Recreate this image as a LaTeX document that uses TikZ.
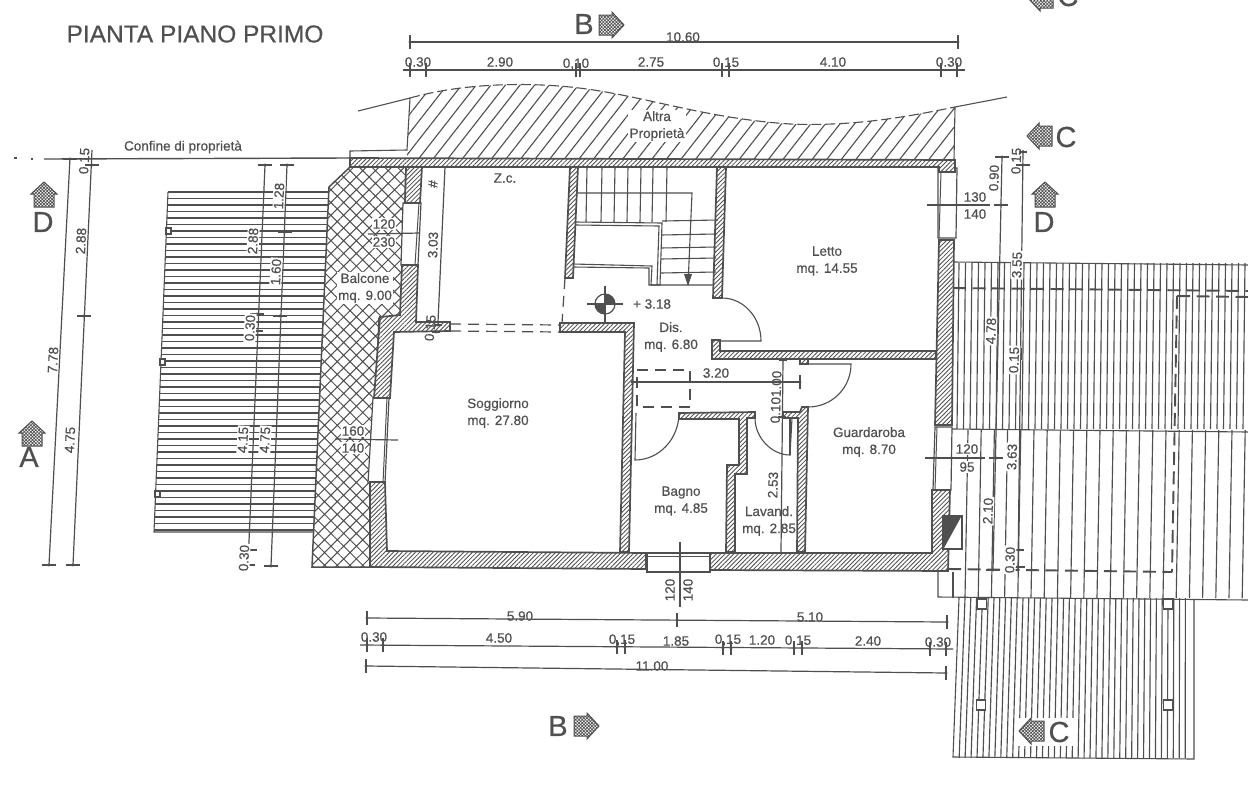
\documentclass[tikz,border=0pt]{standalone}
\usepackage{fontspec}
\setmainfont[FakeBold=0.5,AutoFakeBold=0.5]{Liberation Sans}
\usetikzlibrary{patterns.meta}
\definecolor{ink}{HTML}{4F4F4F}
\definecolor{txt}{HTML}{505050}
\tikzset{
  lab/.style={text=txt,inner sep=0pt,align=center,font=\fontsize{13.5}{17}\selectfont\bfseries},
  labw/.style={lab,fill=white,inner sep=1.2pt},
  sec/.style={lab,font=\fontsize{29}{30}\selectfont},
  ttl/.style={lab,font=\fontsize{24.5}{26}\selectfont\bfseries},
  ln/.style={draw=ink,line width=1.1pt},
  thinln/.style={draw=ink,line width=1pt},
  dimline/.style={draw=ink,line width=1.2pt},
  rooflbl/.style={draw=ink,line width=1.15pt},
  wallst/.style={draw=ink,line width=1.7pt,line join=miter,fill=white,postaction={pattern={Lines[angle=45,distance=3.1pt,line width=0.85pt]},pattern color=ink}},
  winst/.style={draw=ink,line width=1.2pt,fill=white},
  prop/.style={pattern={Lines[angle=52,distance=11.5pt,line width=1.1pt]},pattern color=ink},
  balc/.style={draw=ink,line width=1.5pt,pattern={Hatch[angle=45,distance=9pt,line width=1pt]},pattern color=ink},
  secst/.style={draw=ink,line width=1pt,fill=white,postaction={pattern={Hatch[angle=45,distance=2.3pt,line width=0.7pt]},pattern color=ink}},
  dsh/.style={draw=ink,line width=1.2pt,dash pattern=on 11pt off 7pt},
  roofdsh/.style={draw=ink,line width=1.9pt,dash pattern=on 13pt off 6.5pt},
  sq/.style={draw=ink,line width=1.2pt,fill=white}
}
\newcommand{\tx}[4][]{\node[lab,#1] (#2) at (#3) {#4};}
\newcommand{\dimh}[3][7]{\fill[ink] (#2,#3) circle (1.7pt); \draw[dimline] (#2,#3-#1) -- (#2,#3+#1);}
\newcommand{\dimv}[3][7]{\fill[ink] (#2,#3) circle (1.7pt); \draw[dimline] (#2-#1,#3) -- (#2+#1,#3);}
\newcommand{\secarrow}[3]{\draw[secst,shift={(#1,#2)},rotate=#3] (0,-12) -- (13,0) -- (10,0) -- (10,13) -- (-10,13) -- (-10,0) -- (-13,0) -- cycle;}
\begin{document}
\begin{tikzpicture}[x=1pt,y=-1pt]
\useasboundingbox (0,0) rectangle (1248,788);
\clip (0,0) rectangle (1248,788);
\fill[white] (0,0) rectangle (1248,788);

% ---- left roof
\foreach \y in {192,198.5,...,532}{
  \pgfmathsetmacro{\xl}{168-(\y-192)*14/340}
  \pgfmathsetmacro{\xr}{329-(\y-192)*16/340}
  \draw[rooflbl] (\xl,\y) -- (\xr,\y);
}
\draw[ln] (168,192) -- (154,532) -- (313,532);
\foreach \x/\y in {168/231,162/362,157/494}{\draw[sq] (\x-2,\y-3) rectangle (\x+3,\y+3);}

% ---- right upper roof
\foreach \x in {958,964.5,...,1250}{\draw[rooflbl] (\x+1,263) -- (\x-1,429);}
\draw[ln] (953,262) -- (1248,265);
\draw[ln] (952,429) -- (1248,432);
% ---- right middle roof
\foreach \x in {968,981.2,...,1250}{\draw[rooflbl] (\x,430) -- (\x-3,598);}
\draw[rooflbl] (953,572) -- (953,598);
\draw[ln] (938,570) -- (938,597) -- (1248,600);
% ---- right lower roof
\foreach \x in {965,970.8,...,1190}{
  \pgfmathsetmacro{\xb}{\x-6*(1194-\x)/235}
  \draw[rooflbl] (\x,598) -- (\xb,758);
}
\draw[ln] (959,598) -- (953,757) -- (1194,759) -- (1194,599);
\foreach \x/\y in {982/604,1168/604,981/705,1168/705}{\draw[sq] (\x-4.5,\y-5) rectangle (\x+4.5,\y+5);}
% roof dashes
\draw[roofdsh] (953,288) -- (1248,291);
\draw[roofdsh] (1177,296) -- (1248,297);
\draw[roofdsh] (1177,296) -- (1172,572);
\draw[roofdsh] (948,569) -- (1172,572);

% ---- other property
\path[prop] (410,98) .. controls (460,84) and (520,82) .. (570,87)
  .. controls (640,94) and (700,118) .. (790,124)
  .. controls (860,127) and (920,114) .. (955,107) -- (954,160) -- (407,158) -- cycle;
\draw[ln] (358,111) -- (410,98);
\draw[ln,dash pattern=on 10pt off 4pt] (410,98) .. controls (460,84) and (520,82) .. (570,87)
  .. controls (640,94) and (700,118) .. (790,124)
  .. controls (860,127) and (920,114) .. (955,107);
\draw[ln] (955,107) -- (1007,97);
\draw[ln] (955,107) -- (954,160);
\draw[ln] (410,98) -- (407,150) -- (350,151) -- (350,158);

% ---- boundary line
\draw[ink,line width=1.4pt] (44,159) -- (350,158);
\draw[ink,line width=1.4pt] (14,158) -- (17,158);
\draw[ink,line width=1.4pt] (31,159) -- (33,159);

% ---- balcony
\draw[balc] (350,167) -- (406,167) -- (402,315) -- (379,318) -- (370,567) -- (312,567) -- (329,187) -- cycle;

% ---- windows
\draw[winst] (403,203) -- (421,203) -- (418,265) -- (401,265) -- cycle;
\draw[thinln] (419,203) -- (415,265);
\draw[winst] (373,398) -- (389,398) -- (385,483) -- (368,483) -- cycle;
\draw[thinln] (387,398) -- (383,483);
\draw[winst] (938,168) -- (957,168) -- (956,238) -- (938,238) -- cycle;
\draw[thinln] (941,172) -- (939,238);
\draw[winst] (935,427) -- (952,427) -- (951,490) -- (933,490) -- cycle;
\draw[thinln] (937,427) -- (935,490);
\draw[winst] (647,553) -- (710,553) -- (710,572) -- (647,572) -- cycle;
\draw[thinln] (647,556) -- (710,556);

% ---- walls
\draw[wallst] (350,158) -- (955,160) -- (955,172) -- (939,172) -- (939,167) -- (350,167) -- cycle;
\draw[wallst] (406,167) -- (422,167) -- (420,203) -- (405,203) -- cycle;
\draw[wallst] (380,317) -- (400,315) -- (402,265) -- (418,265) -- (416,322) -- (450,322) -- (450,331) -- (394,332) -- (390,398) -- (374,398) -- cycle;
\draw[wallst] (370,482) -- (385,482) -- (387,551) -- (646,553) -- (646,569) -- (370,567) -- cycle;
\draw[wallst] (560,323) -- (634,323) -- (629,552) -- (620,552) -- (625,332) -- (560,332) -- cycle;
\draw[wallst] (570,167) -- (578,167) -- (573,278) -- (565,278) -- cycle;
\draw[wallst] (717,167) -- (726,167) -- (722,298) -- (713,298) -- cycle;
\draw[wallst] (712,340) -- (720,340) -- (720,351) -- (936,351) -- (936,359) -- (712,359) -- cycle;
\draw[wallst] (939,240) -- (954,240) -- (952,425) -- (935,425) -- cycle;
\draw[wallst] (932,490) -- (950,490) -- (948,571) -- (710,570) -- (710,553) -- (932,553) -- cycle;
\draw[wallst] (679,413) -- (755,412) -- (755,418) -- (747,418) -- (747,474) -- (735,474) -- (735,552) -- (726,552) -- (727,465) -- (739,465) -- (739,419) -- (679,419) -- cycle;
\draw[wallst] (783,412) -- (800,412) -- (802,407) -- (808,407) -- (805,552) -- (797,552) -- (798,418) -- (783,418) -- cycle;
\draw[wallst] (800,359) -- (808,359) -- (808,364) -- (800,364) -- cycle;

% ---- dashed openings
\draw[dsh] (450,324) -- (560,325);
\draw[dsh] (450,331) -- (560,332);
\draw[dsh] (565,278) -- (562,323);
\draw[dsh] (637,370) -- (690,370) -- (690,407) -- (637,407) -- cycle;

% ---- doors
\draw[ln] (722,298) .. controls (743.5,298) and (761,317.3) .. (761,341) -- (720,341);
\draw[ln] (679,413) .. controls (679,439) and (659,460) .. (635,460) -- (636,413);
\draw[ln] (755,418) .. controls (755,438) and (772,455) .. (790,455) -- (792,418);
\draw[ln] (790,455) -- (790,418);
\draw[ln] (808,407) .. controls (832,407) and (851,388) .. (851,364) -- (803,364);

% ---- stairs
\foreach \x in {587,602,615,628,641,653,667}{\draw[ln] (\x,167) -- (\x-1,222);}
\draw[ln] (577,193) -- (692,193) -- (688,285);
\draw[ln] (575,222) -- (662,223) -- (660,285) -- (651,285) -- (652,266) -- (573,264);
\draw[ln] (575,225) -- (659,226) -- (657,285);
\draw[ln] (573,267) -- (649,268) -- (649,285) -- (713,285);
\draw[ln] (662,221) -- (718,220);
\foreach \y in {235,248,259,273}{\draw[ln] (661,\y) -- (716,\y-1);}
\fill[ink] (684,274) -- (692,274) -- (688,286) -- cycle;

% ---- level mark
\node[draw=ink,line width=1.2pt,circle,minimum size=20pt,inner sep=0pt] (levelc) at (605,304) {};
\fill[ink] (605,304) -- (615,304) .. controls (615,298.5) and (610.5,294) .. (605,294) -- cycle;
\fill[ink] (595,304) .. controls (595,309.5) and (599.5,314) .. (605,314) -- (605,304) -- cycle;
\draw[ln] (587,304) -- (623,304);
\draw[ln] (605,286) -- (605,322);

% ---- chimney
\draw[ink,line width=2.4pt,fill=white] (943,516) rectangle (962,549);
\fill[ink] (944,517) -- (961,517) -- (944,548) -- cycle;

% ---- dimension lines: top
\draw[dimline] (410,42) -- (958,42);
\dimh{410}{42}\dimh{958}{42}
\draw[dimline] (403,70) -- (965,70);
\foreach \x in {410,426,576,580,722,729,941,957}{\dimh{\x}{70}}
% bottom
\draw[dimline] (367,618) -- (947,622);
\dimh{367}{618}\dimh{677}{620}\dimh{947}{622}
\draw[dimline] (360,645) -- (953,649);
\foreach \x/\y in {367/645,383/645,617/647,625/647,723/648,731/648,794/648,802/648,930/649,946/649}{\dimh{\x}{\y}}
\draw[dimline] (366,666) -- (946,673);
\dimh{366}{666}\dimh{946}{673}
% left
\draw[dimline] (70,158) -- (49,565);
\dimv{70}{159}\dimv{49}{565}
\draw[dimline] (92,150) -- (73,565);
\dimv{92}{165}\dimv{84}{316}\dimv{73}{565}
\draw[dimline] (265,165) -- (248,565);
\dimv{265}{165}\dimv{257}{314}\dimv{256}{331}\dimv{250}{550}\dimv{248}{565}
\draw[dimline] (287,165) -- (271,566);
\dimv{287}{165}\dimv{285}{232}\dimv{280}{316}\dimv{271}{566}
% right
\draw[dimline] (1002,157) -- (993,570);
\dimv{1002}{157}\dimv{1001}{205}\dimv{996}{458}\dimv{993}{570}
\draw[dimline] (1023,150) -- (1018,570);
\dimv{1023}{165}\dimv[4]{1023}{152}\dimh[6]{1021}{354}\dimv[5]{1019}{550}\dimv{1018}{567}
% interior
\draw[dimline] (632,382) -- (800,382);
\fill[ink] (632,382) circle (1.7pt);
\dimh{800}{382}
\draw[dimline] (783,360) -- (781,552);
\dimv[4]{783}{360}\dimv[4]{782}{417}
\draw[dimline] (445,167) -- (438,322);
\dimv[4]{438}{325}\dimv[4]{436}{332}
\draw[dimline] (368,234) -- (420,233);
\draw[dimline] (335,439) -- (398,440);
\draw[dimline] (927,205) -- (990,205);
\draw[dimline] (925,458) -- (985,458);
\draw[dimline] (680,542) -- (680,607);

% ---- section arrows
\secarrow{44}{194}{0}
\secarrow{32}{433}{0}
\secarrow{1045}{194}{0}
\secarrow{612}{25}{-90}
\secarrow{587}{726}{-90}
\secarrow{1039}{136}{90}
\secarrow{1040}{-2}{90}
\fill[white] (1015,718) rectangle (1075,746);
\secarrow{1031}{731}{90}

% ---- texts
\tx[ttl]{title}{195,34}{PIANTA PIANO PRIMO}
\tx[sec]{secBa}{584,24}{B}
\tx[sec]{secBb}{558,726}{B}
\tx[sec]{secCa}{1066,137}{C}
\tx[sec]{secCb}{1059,732}{C}
\tx[sec]{secCc}{1068,-4}{C}
\tx[sec]{secDa}{43,222}{D}
\tx[sec]{secDb}{1044,222}{D}
\tx[sec]{secA}{29,457}{A}
\tx{confine}{183,147}{Confine di proprietà}
\tx[labw]{altra}{657,126}{Altra\\Proprietà}
\tx{zc}{505,178}{Z.c.}
\tx{letto}{827,261}{Letto\\mq. 14.55}
\tx{dis}{671,337}{Dis.\\mq. 6.80}
\tx{soggiorno}{498,413}{Soggiorno\\mq. 27.80}
\tx{bagno}{681,501}{Bagno\\mq. 4.85}
\tx{lavand}{769,521}{Lavand.\\mq. 2.85}
\tx{guard}{869,442}{Guardaroba\\mq. 8.70}
\tx[labw]{balcone}{365,288}{Balcone\\mq. 9.00}
\tx{level}{652,304}{+ 3.18}

% top dims
\tx{d1060}{683,37}{10.60}
\tx{da1}{418,62}{0.30}
\tx{da2}{500,62}{2.90}
\tx{da3}{576,64}{0,10}
\tx{da4}{651,62}{2.75}
\tx{da5}{726,63}{0,15}
\tx{da6}{833,62}{4.10}
\tx{da7}{949,62}{0.30}
% bottom dims
\tx{db1}{520,616}{5.90}
\tx{db2}{810,617}{5.10}
\tx{dc1}{374,637}{0.30}
\tx{dc2}{499,638}{4.50}
\tx{dc3}{622,640}{0,15}
\tx{dc4}{676,641}{1.85}
\tx{dc5}{728,640}{0,15}
\tx{dc6}{762,640}{1.20}
\tx{dc7}{798,641}{0,15}
\tx{dc8}{868,641}{2.40}
\tx{dc9}{938,642}{0.30}
\tx{dd1}{652,666}{11.00}
% left dims
\tx[rotate=87]{dl1}{53,360}{7.78}
\tx[rotate=87]{dl2}{85,161}{0,15}
\tx[rotate=87]{dl3}{81,241}{2.88}
\tx[rotate=87]{dl4}{70,440}{4.75}
\tx[labw,rotate=87]{dl5}{253,241}{2.88}
\tx[labw,rotate=87]{dl6}{250,328}{0.30}
\tx[labw,rotate=87]{dl7}{243,440}{4.15}
\tx[labw,rotate=87]{dl8}{244,558}{0.30}
\tx[labw,rotate=87]{dl9}{279,196}{1.28}
\tx[labw,rotate=87]{dl10}{276,272}{1.60}
\tx[labw,rotate=87]{dl11}{265,440}{4.75}
% right dims
\tx[rotate=88]{dr1}{994,178}{0.90}
\tx[rotate=88]{dr2}{1017,161}{0,15}
\tx[labw,rotate=88]{dr3}{1017,265}{3.55}
\tx[labw,rotate=88]{dr4}{991,331}{4.78}
\tx[labw,rotate=88]{dr5}{1014,360}{0.15}
\tx[labw,rotate=88]{dr6}{1012,457}{3.63}
\tx[labw,rotate=88]{dr7}{988,511}{2.10}
\tx[labw,rotate=88]{dr8}{1010,560}{0.30}
% interior dims
\tx{di1}{716,373}{3.20}
\tx[rotate=88]{di2}{776,397}{0.101.00}
\tx[rotate=88]{di3}{773,485}{2.53}
\tx[rotate=88]{di4}{433,245}{3.03}
\tx[rotate=85]{di5}{431,328}{0,15}
\tx[rotate=85]{di6}{433,184}{\#}
\tx[labw]{w1a}{384,224}{120}
\tx[labw]{w1b}{384,242}{230}
\tx[labw]{w2a}{353,431}{160}
\tx[labw]{w2b}{353,448}{140}
\tx{w3a}{975,197}{130}
\tx{w3b}{975,214}{140}
\tx[labw]{w4a}{967,449}{120}
\tx[labw]{w4b}{967,467}{95}
\tx[rotate=90]{w5a}{670,590}{120}
\tx[rotate=90]{w5b}{688,590}{140}
\end{tikzpicture}
\end{document}
